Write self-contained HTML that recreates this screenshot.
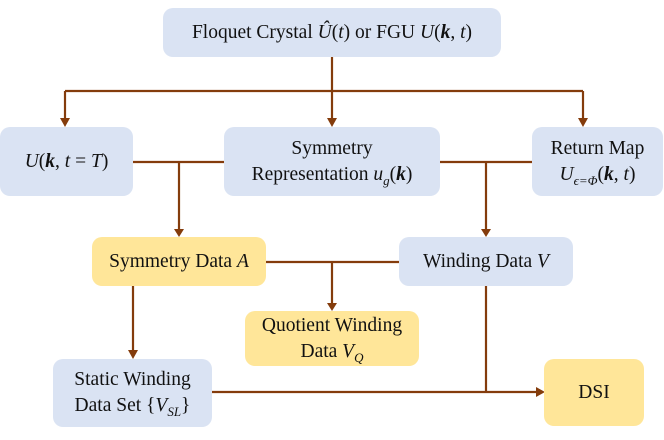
<!DOCTYPE html>
<html><head><meta charset="utf-8"><style>
html,body{margin:0;padding:0;background:#fff;}
body{width:664px;height:440px;position:relative;overflow:hidden;font-family:"Liberation Serif",serif;color:#111;}
.b{position:absolute;border-radius:10px;display:flex;align-items:center;justify-content:center;text-align:center;font-size:19.5px;line-height:26px;white-space:nowrap;}
.bl{background:#dae3f3;}
.y{background:#ffe699;}
i{font-style:italic;}
b{font-style:italic;font-weight:bold;}
sub{font-size:13px;line-height:0;font-style:italic;}
svg{position:absolute;left:0;top:0;}
</style></head><body>
<svg width="664" height="440">
<g stroke="#843c0c" stroke-width="2.2" fill="none">
<line x1="332" y1="57" x2="332" y2="120"/>
<line x1="65" y1="91" x2="583" y2="91"/>
<line x1="65" y1="91" x2="65" y2="120"/>
<line x1="583" y1="91" x2="583" y2="120"/>
<line x1="133" y1="162" x2="224" y2="162"/>
<line x1="179" y1="162" x2="179" y2="231"/>
<line x1="440" y1="162" x2="532" y2="162"/>
<line x1="486" y1="162" x2="486" y2="231"/>
<line x1="266" y1="262" x2="399" y2="262"/>
<line x1="332" y1="262" x2="332" y2="305"/>
<line x1="133" y1="286" x2="133" y2="352"/>
<line x1="212" y1="392" x2="538" y2="392"/>
<line x1="486" y1="286" x2="486" y2="392"/>
</g>
<g fill="#843c0c">
<polygon points="60,118 70,118 65,127"/>
<polygon points="327,118 337,118 332,127"/>
<polygon points="578,118 588,118 583,127"/>
<polygon points="174,229 184,229 179,237"/>
<polygon points="481,229 491,229 486,237"/>
<polygon points="327,303 337,303 332,311"/>
<polygon points="128,350 138,350 133,359"/>
<polygon points="536,387 536,397 545,392"/>
</g>
</svg>
<div class="b bl" style="left:163px;top:8px;width:338px;height:49px;">Floquet Crystal&nbsp;<i>Û</i>(<i>t</i>) or FGU&nbsp;<i>U</i>(<b>k</b>,&nbsp;<i>t</i>)</div>
<div class="b bl" style="left:0;top:127px;width:133px;height:69px;"><span><i>U</i>(<b>k</b>,&nbsp;<i>t</i> = <i>T</i>)</span></div>
<div class="b bl" style="left:224px;top:127px;width:216px;height:69px;"><span>Symmetry<br>Representation <i>u<sub>g</sub></i>(<b>k</b>)</span></div>
<div class="b bl" style="left:532px;top:127px;width:131px;height:69px;"><span>Return Map<br><i>U</i><sub>ϵ=Φ</sub>(<b>k</b>,&nbsp;<i>t</i>)</span></div>
<div class="b y" style="left:92px;top:237px;width:174px;height:49px;">Symmetry Data&nbsp;<i>A</i></div>
<div class="b bl" style="left:399px;top:237px;width:174px;height:49px;">Winding Data&nbsp;<i>V</i></div>
<div class="b y" style="left:245px;top:311px;width:174px;height:55px;"><span>Quotient Winding<br>Data <i>V<sub>Q</sub></i></span></div>
<div class="b bl" style="left:53px;top:359px;width:159px;height:68px;"><span>Static Winding<br>Data Set {<i>V<sub>SL</sub></i>}</span></div>
<div class="b y" style="left:544px;top:359px;width:100px;height:67px;">DSI</div>
</body></html>
